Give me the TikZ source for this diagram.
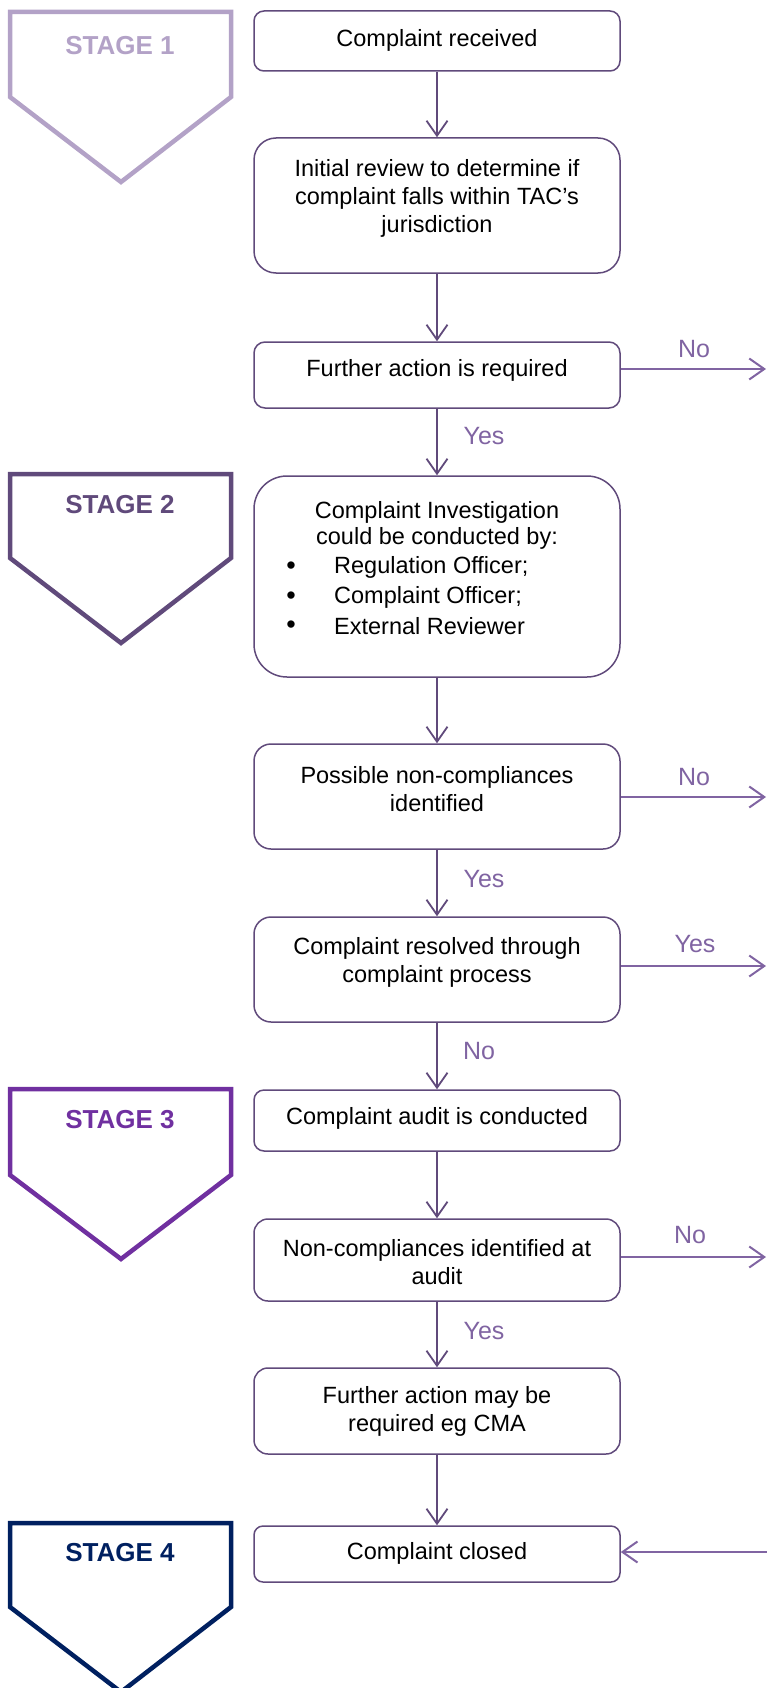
\documentclass[tikz,border=0pt]{standalone}
\usepackage{fontspec}
\setmainfont{Liberation Sans}
\usetikzlibrary{arrows.meta}
\definecolor{boxc}{HTML}{604A7B}
\definecolor{lblc}{HTML}{8064A2}
\definecolor{st1}{HTML}{B3A2C7}
\definecolor{st2}{HTML}{604A7B}
\definecolor{st3}{HTML}{7030A0}
\definecolor{st4}{HTML}{002060}
\tikzset{
  box/.style={draw=boxc, line width=1.5pt, rectangle, minimum width=366pt, inner sep=0pt},
  txt/.style={align=center, font=\fontsize{23.5}{28}\selectfont, inner sep=0pt},
  bul/.style={font=\fontsize{27}{27}\selectfont, inner sep=0pt},
  ltxt/.style={anchor=west, font=\fontsize{23.5}{28}\selectfont, inner sep=0pt},
  yn/.style={text=lblc, font=\fontsize{25}{28}\selectfont, inner sep=0pt},
  stagelbl/.style={font=\bfseries\fontsize{26}{30}\selectfont, inner sep=0pt},
  stagebox/.style={line width=4.5pt, line join=miter},
  flow/.style={draw=boxc, line width=1.8pt, -{Straight Barb[length=15pt,width=21pt,line width=1.8pt]}},
  side/.style={draw=lblc, line width=2pt, -{Straight Barb[length=15pt,width=21pt,line width=2pt]}}
}
\begin{document}
\begin{tikzpicture}[x=1pt,y=-1pt]
\useasboundingbox (0,0) rectangle (767,1688);

% stage markers
\draw[stagebox, draw=st1] (10,12) -- (231,12) -- (231,97) -- (121,182) -- (10,97) -- cycle;
\node[stagelbl, text=st1] (s1) at (120,46) {STAGE 1};
\draw[stagebox, draw=st2] (10,474) -- (231,474) -- (231,558) -- (121,643) -- (10,558) -- cycle;
\node[stagelbl, text=st2] (s2) at (120,505) {STAGE 2};
\draw[stagebox, draw=st3] (10,1089) -- (231,1089) -- (231,1175) -- (121,1259) -- (10,1175) -- cycle;
\node[stagelbl, text=st3] (s3) at (120,1120) {STAGE 3};
\draw[stagebox, draw=st4] (10,1523) -- (231,1523) -- (231,1607) -- (121,1692) -- (10,1607) -- cycle;
\node[stagelbl, text=st4] (s4) at (120,1553) {STAGE 4};

% boxes
\node[box, minimum height=60pt, rounded corners=10pt] (b1) at (437,41) {};
\node[box, minimum height=135pt, rounded corners=22pt] (b2) at (437,205.5) {};
\node[box, minimum height=66pt, rounded corners=11pt] (b3) at (437,375) {};
\node[box, minimum height=201pt, rounded corners=33pt] (b4) at (437,576.5) {};
\node[box, minimum height=105pt, rounded corners=17pt] (b5) at (437,796.5) {};
\node[box, minimum height=105pt, rounded corners=17pt] (b6) at (437,969.5) {};
\node[box, minimum height=61pt, rounded corners=10pt] (b7) at (437,1120.5) {};
\node[box, minimum height=82pt, rounded corners=14pt] (b8) at (437,1260) {};
\node[box, minimum height=86pt, rounded corners=14pt] (b9) at (437,1411) {};
\node[box, minimum height=56pt, rounded corners=9pt] (b10) at (437,1554) {};

% texts
\node[txt] (t1) at (437,40) {Complaint received};
\node[txt] (t2) at (437,198) {Initial review to determine if\\complaint falls within TAC’s\\jurisdiction};
\node[txt] (t3) at (437,370) {Further action is required};
\node[txt] (t4a) at (437,512) {Complaint Investigation};
\node[txt] (t4b) at (437,538) {could be conducted by:};
\node[bul] (bu1) at (291,568) {•};
\node[bul] (bu2) at (291,598) {•};
\node[bul] (bu3) at (291,627) {•};
\node[ltxt] (t4c) at (334,567) {Regulation Officer;};
\node[ltxt] (t4d) at (334,597) {Complaint Officer;};
\node[ltxt] (t4e) at (334,626) {External Reviewer};
\node[txt] (t5) at (437,789) {Possible non-compliances\\identified};
\node[txt] (t6) at (437,962) {Complaint resolved through\\complaint process};
\node[txt] (t7) at (437,1118) {Complaint audit is conducted};
\node[txt] (t8) at (437,1262) {Non-compliances identified at\\audit};
\node[txt] (t9) at (437,1411) {Further action may be\\required eg CMA};
\node[txt] (t10) at (437,1553) {Complaint closed};

% vertical flow
\draw[flow] (b1) -- (b2);
\draw[flow] (b2) -- (b3);
\draw[flow] (b3) -- (b4);
\draw[flow] (b4) -- (b5);
\draw[flow] (b5) -- (b6);
\draw[flow] (b6) -- (b7);
\draw[flow] (b7) -- (b8);
\draw[flow] (b8) -- (b9);
\draw[flow] (b9) -- (b10);

\node[yn] (y1) at (484,436) {Yes};
\node[yn] (y2) at (484,879) {Yes};
\node[yn] (n3) at (479,1051) {No};
\node[yn] (y4) at (484,1331) {Yes};

% side exits
\coordinate (e3) at (766,369);
\coordinate (e5) at (766,797);
\coordinate (e6) at (766,966);
\coordinate (e8) at (766,1257);
\coordinate (e10) at (768,1552);
\draw[side] (b3.east |- e3) -- (e3);
\draw[side] (b5.east |- e5) -- (e5);
\draw[side] (b6.east |- e6) -- (e6);
\draw[side] (b8.east |- e8) -- (e8);
\draw[side] (e10) -- (b10.east |- e10);

\node[yn] (sn1) at (694,349) {No};
\node[yn] (sn2) at (694,777) {No};
\node[yn] (sy3) at (695,944) {Yes};
\node[yn] (sn4) at (690,1235) {No};
\end{tikzpicture}
\end{document}
